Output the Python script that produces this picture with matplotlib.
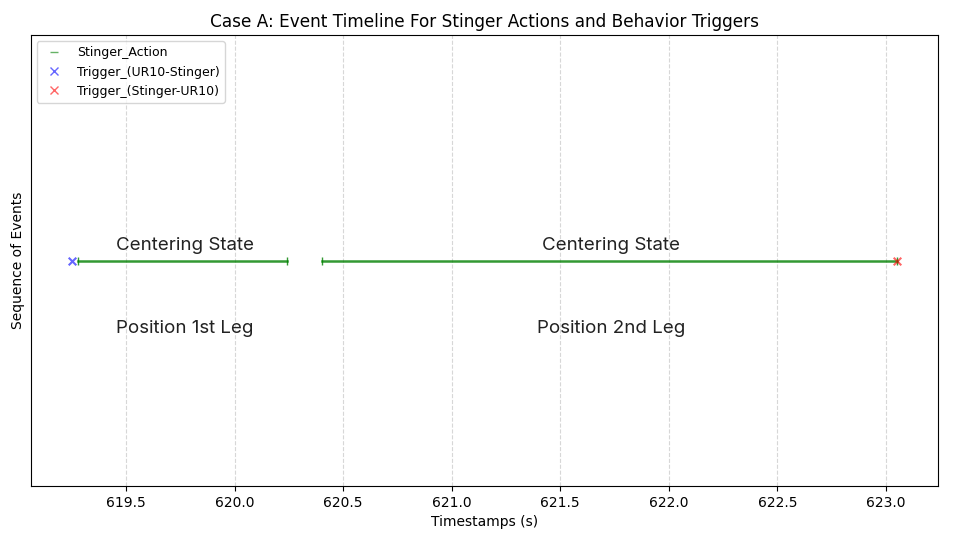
import matplotlib
matplotlib.use('Agg')
import matplotlib.pyplot as plt
from matplotlib.lines import Line2D

# stinger action segments (start, end) in seconds
action_start = [619.28, 620.40]
action_end = [620.24, 623.05]
action_labels = ['Centering State', 'Centering State']
leg_labels = ['Position 1st Leg', 'Position 2nd Leg']

# trigger timestamps
trig_ur10_stinger = [619.25]
trig_stinger_ur10 = [623.05]

y_level = 1.0

fig, ax = plt.subplots(figsize=(9.6, 5.4), dpi=100)

for s, e, lab, leg in zip(action_start, action_end, action_labels, leg_labels):
    ax.plot([s, e], [y_level, y_level], color='green', alpha=0.8, linewidth=1.8, marker='|', markersize=6)
    mid = (s + e) / 2 + 0.01
    ax.text(mid, y_level + 0.015, lab, ha='center', va='bottom', fontsize=13.5, family='Inter', color='#222222')
    ax.text(mid, y_level - 0.15, leg, ha='center', va='center', fontsize=13.5, family='Inter', color='#222222')

ax.scatter(trig_ur10_stinger, [y_level] * len(trig_ur10_stinger), marker='x', color='blue', alpha=0.6, s=30, zorder=3)
ax.scatter(trig_stinger_ur10, [y_level] * len(trig_stinger_ur10), marker='x', color='red', alpha=0.6, s=30, zorder=3)

handles = [
    Line2D([], [], color='green', marker='_', linestyle='None', markersize=6, alpha=0.6, label='Stinger_Action'),
    Line2D([], [], color='blue', marker='x', linestyle='None', markersize=6, alpha=0.6, label='Trigger_(UR10-Stinger)'),
    Line2D([], [], color='red', marker='x', linestyle='None', markersize=6, alpha=0.6, label='Trigger_(Stinger-UR10)'),
]
ax.legend(handles=handles, loc='upper left', fontsize=9)

ax.set_ylim(0.5, 1.5)
ax.set_yticks([])
ax.set_ylabel('Sequence of Events')
ax.set_xlabel('Timestamps (s)')
ax.set_title('Case A: Event Timeline For Stinger Actions and Behavior Triggers', fontsize=12.2)
ax.grid(axis='x', linestyle='--', alpha=0.5)

plt.subplots_adjust(left=0.032, right=0.977, top=0.935, bottom=0.10)
plt.savefig('out.png', dpi=100)
